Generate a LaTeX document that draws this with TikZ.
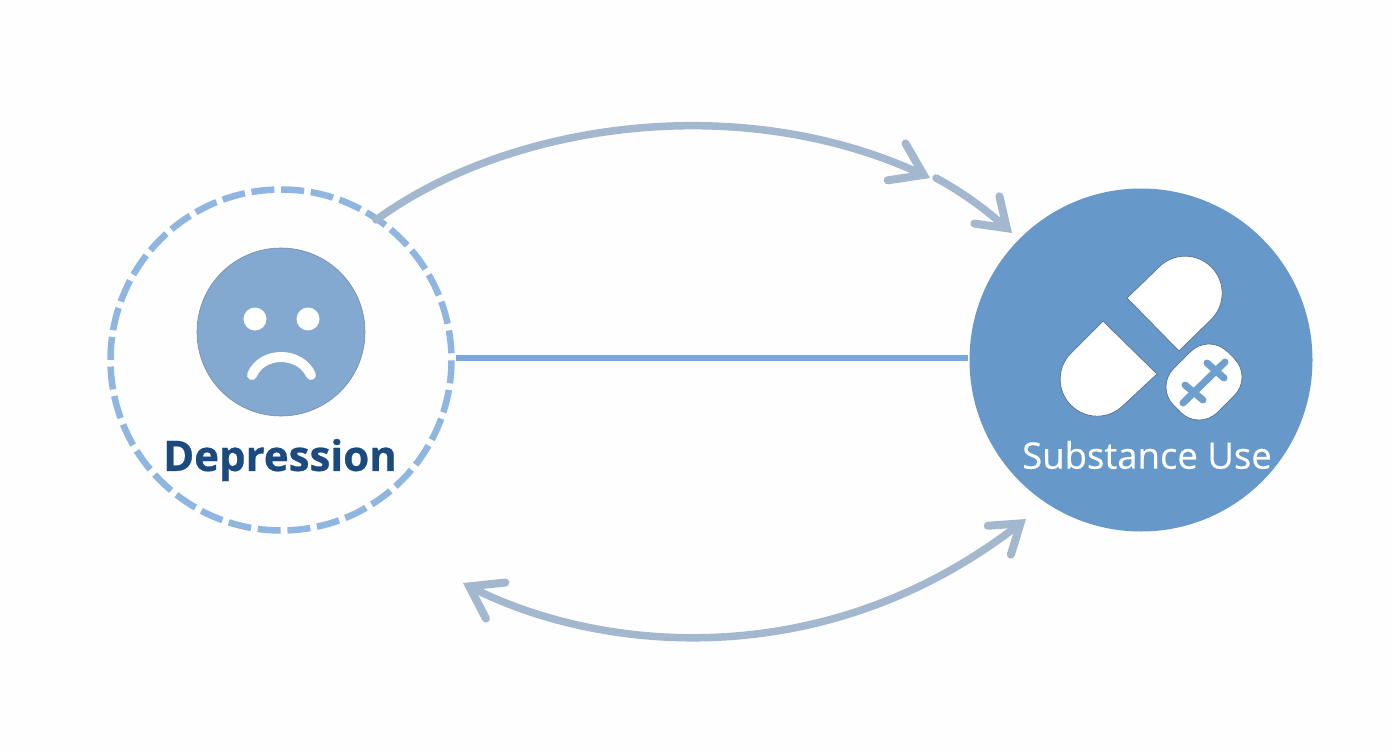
\documentclass[tikz,border=0pt]{standalone}
\usepackage{fontspec}
\setmainfont{Open Sans}
\newfontfamily\depfont[FakeBold=0.6]{Open Sans}
\newfontfamily\subfont[FakeBold=0.3]{Open Sans}
\usetikzlibrary{arrows.meta,bending}
\definecolor{bgc}{HTML}{FEFEFE}
\definecolor{subc}{HTML}{6699C9}
\definecolor{facec}{HTML}{84A9D1}
\definecolor{dashc}{HTML}{8FB6E0}
\definecolor{arrc}{HTML}{A3B8CF}
\definecolor{linec}{HTML}{7AA7DC}
\definecolor{darkt}{HTML}{1B4A7F}
\definecolor{edgec}{HTML}{55718F}
\definecolor{crossc}{HTML}{6F9FCF}
\tikzset{
  tipbarb/.tip={Straight Barb[length=30pt,width=41pt,line width=8pt,line cap=round]},
  tipsmall/.tip={Straight Barb[length=27pt,width=37pt,line width=8pt,line cap=round]},
  flow/.style={draw=arrc,line width=7.5pt,line cap=round},
  pillhalf/.style={fill=white,draw=edgec,line width=0.7pt,line join=round},
  crossbar/.style={draw=crossc,line width=7pt,line cap=round},
  eye/.style={circle,fill=white,inner sep=0pt,minimum size=23pt}
}
\begin{document}
\begin{tikzpicture}[x=1pt,y=-1pt]
\useasboundingbox (0,0) rectangle (1392,752);
\fill[bgc] (0,0) rectangle (1392,752);
% circles
\node[circle,draw=dashc,line width=6.5pt,dash pattern=on 23pt off 6.75pt,dash phase=23pt,minimum size=341pt,inner sep=0pt] (dep) at (281,360) {};
\node[circle,fill=subc,minimum size=343pt,inner sep=0pt] (sub) at (1141,360) {};
% connector
\coordinate (ls) at (456,358);
\coordinate (le) at (968,358);
\draw[draw=linec,line width=6.5pt] (ls) -- (le);
% arrows
\coordinate (a1) at (376,220);
\coordinate (a2) at (930,178);
\coordinate (a3) at (936,178);
\coordinate (a4) at (1012,233);
\coordinate (b1) at (463,583);
\coordinate (b2) at (1026,519);
\draw[flow,-tipbarb] (a1) .. controls (510,122) and (745,88) .. (a2);
\draw[flow,-tipsmall] (a3) .. controls (960,191) and (985,208) .. (a4);
\draw[flow,tipbarb-tipsmall] (b1) .. controls (590,652) and (825,680) .. (b2);
% face
\node[circle,fill=facec,draw=edgec!80,line width=0.6pt,minimum size=168pt,inner sep=0pt] (face) at (281,332) {};
\node[eye] (eyel) at (255,319) {};
\node[eye] (eyer) at (308,319) {};
\draw[white,line width=10pt,line cap=round] (252,375) .. controls (262,351) and (300,351) .. (311,375);
% pill
\draw[pillhalf] (1127,298) -- (1159,267) arc[start angle=-135,end angle=45,radius=37] -- (1179,351) -- cycle;
\draw[pillhalf] (1103,321) -- (1071,353) arc[start angle=-135,end angle=-315,radius=37] -- (1157,374) -- cycle;
\node[rectangle,rounded corners=26pt,fill=white,draw=edgec,line width=0.7pt,minimum width=76pt,minimum height=62pt,inner sep=0pt,rotate=45] (pill) at (1204,382) {};
\draw[crossbar] (1183,403) -- (1225,362);
\draw[crossbar] (1185,385) -- (1203,400);
\draw[crossbar] (1207,363) -- (1224,378);
% text
\node[font=\depfont\bfseries\fontsize{42}{42}\selectfont,text=darkt,inner sep=0pt] (deplabel) at (280,460) {Depression};
\node[font=\subfont\fontsize{36.5}{36.5}\selectfont,text=white,inner sep=0pt] (sublabel) at (1147,455) {Substance Use};
\end{tikzpicture}
\end{document}
